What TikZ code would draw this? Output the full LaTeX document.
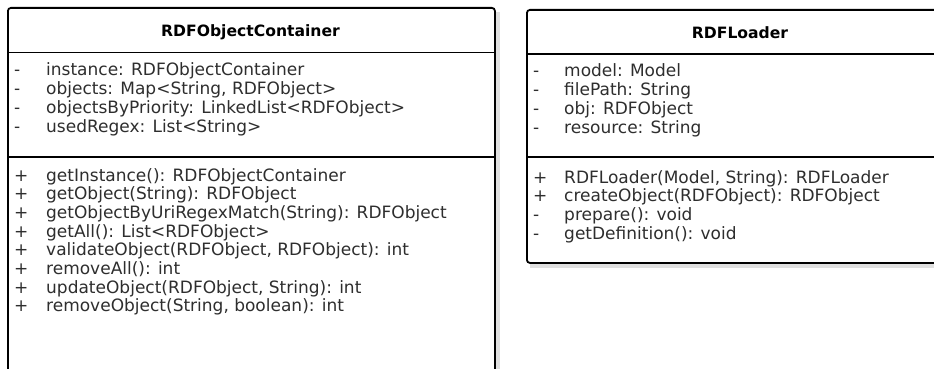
\documentclass[tikz,border=0pt]{standalone}
\usepackage{fontspec}
\setmainfont{DejaVu Sans}
\usetikzlibrary{positioning}

\begin{document}
\begin{tikzpicture}[x=1pt, y=-1pt,
	classbox/.style={draw, fill=white, line width=1.8pt, rounded corners=3pt, anchor=north west, inner sep=0pt},
	divider/.style={line width=1.4pt},
	shade/.style={fill=black!12},
	classname/.style={font=\fontsize{15.6}{19}\selectfont\bfseries, anchor=base, inner sep=0pt},
	member/.style={font=\fontsize{17}{19}\selectfont, text=black!82, anchor=base west, inner sep=0pt}]
	\useasboundingbox (0,0) rectangle (934,369);
	\clip (0,0) rectangle (934,369);

	% RDFObjectContainer
	\fill[shade] (494,12) rectangle (500,390);
	\node[classbox, minimum width=487pt, minimum height=383pt] (container) at (7,7) {};
	\node[classname] (containername) at (250.5,37) {RDFObjectContainer};
	\draw[divider] (7,52.5) -- (494,52.5);
	\draw[divider] (7,157) -- (494,157);
	\foreach \v/\t [count=\i] in {-/{instance: RDFObjectContainer}, -/{objects: Map<String, RDFObject>},
		-/{objectsByPriority: LinkedList<RDFObject>}, -/{usedRegex: List<String>}} {
		\node[member] (cvis\i) at (14,{76+18.7*(\i-1)}) {\v};
		\node[member] (cattr\i) at (46,{76+18.7*(\i-1)}) {\t};
	}
	\foreach \v/\t [count=\i] in {+/{getInstance(): RDFObjectContainer}, +/{getObject(String): RDFObject},
		+/{getObjectByUriRegexMatch(String): RDFObject}, +/{getAll(): List<RDFObject>},
		+/{validateObject(RDFObject, RDFObject): int}, +/{removeAll(): int},
		+/{updateObject(RDFObject, String): int}, +/{removeObject(String, boolean): int}} {
		\node[member] (cmvis\i) at (14,{181+18.7*(\i-1)}) {\v};
		\node[member] (cop\i) at (46,{181+18.7*(\i-1)}) {\t};
	}

	% RDFLoader
	\fill[shade] (530,262) rectangle (960,268);
	\node[classbox, minimum width=428pt, minimum height=253pt] (loader) at (526,9) {};
	\node[classname] (loadername) at (740,39) {RDFLoader};
	\draw[divider] (526,54) -- (954,54);
	\draw[divider] (526,157) -- (954,157);
	\foreach \v/\t [count=\i] in {-/{model: Model}, -/{filePath: String}, -/{obj: RDFObject}, -/{resource: String}} {
		\node[member] (lvis\i) at (533,{77+18.7*(\i-1)}) {\v};
		\node[member] (lattr\i) at (564,{77+18.7*(\i-1)}) {\t};
	}
	\foreach \v/\t [count=\i] in {+/{RDFLoader(Model, String): RDFLoader}, +/{createObject(RDFObject): RDFObject},
		-/{prepare(): void}, -/{getDefinition(): void}} {
		\node[member] (lmvis\i) at (533,{183+18.7*(\i-1)}) {\v};
		\node[member] (lop\i) at (564,{183+18.7*(\i-1)}) {\t};
	}
\end{tikzpicture}
\end{document}
